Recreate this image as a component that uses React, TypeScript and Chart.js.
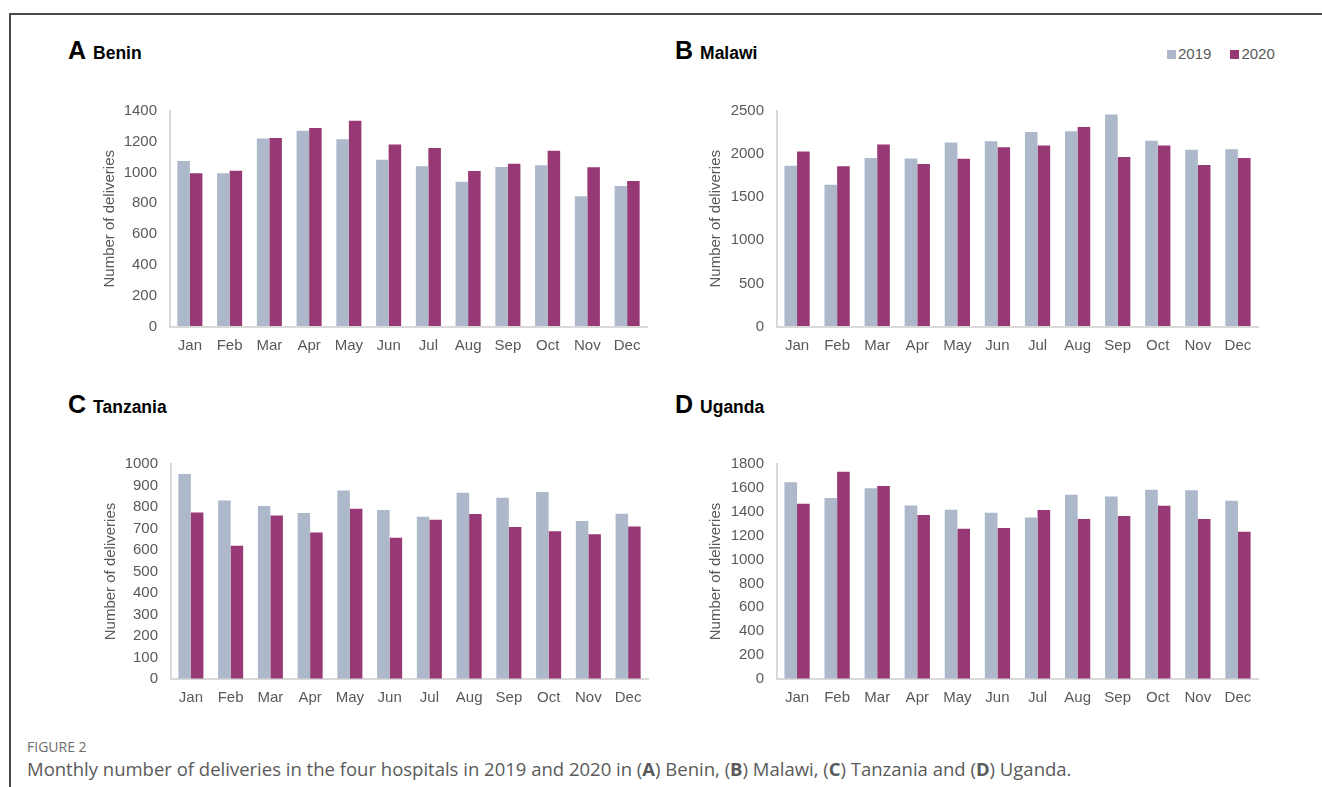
import React, { useEffect, useRef } from "react";
import { Chart, registerables } from "chart.js";

Chart.register(...registerables);

// Month labels shared by every panel
const months = ["Jan", "Feb", "Mar", "Apr", "May", "Jun", "Jul", "Aug", "Sep", "Oct", "Nov", "Dec"];

// Series names and colours
const seriesNames = ["2019", "2020"];
const seriesColors = ["#ADB9CA", "#973975"];

// Monthly deliveries per hospital
const benin2019 = [1075, 995, 1222, 1272, 1217, 1083, 1041, 940, 1037, 1048, 846, 912];
const benin2020 = [995, 1012, 1224, 1290, 1337, 1183, 1160, 1011, 1058, 1141, 1035, 946];

const malawi2019 = [1865, 1645, 1955, 1950, 2135, 2150, 2255, 2265, 2460, 2155, 2050, 2055];
const malawi2020 = [2030, 1860, 2110, 1885, 1945, 2080, 2100, 2315, 1965, 2100, 1875, 1955];

const tanzania2019 = [953, 830, 805, 772, 877, 786, 755, 866, 843, 870, 735, 769];
const tanzania2020 = [775, 620, 760, 681, 792, 657, 741, 767, 707, 687, 673, 709];

const uganda2019 = [1648, 1515, 1598, 1453, 1417, 1392, 1353, 1543, 1528, 1584, 1581, 1492];
const uganda2020 = [1467, 1736, 1615, 1372, 1258, 1264, 1414, 1339, 1364, 1450, 1339, 1233];

// Y-axis ranges
const beninAxis = { max: 1400, step: 200 };
const malawiAxis = { max: 2500, step: 500 };
const tanzaniaAxis = { max: 1000, step: 100 };
const ugandaAxis = { max: 1800, step: 200 };

const yTitle = "Number of deliveries";
const axisFont = "'Liberation Sans', Arial, sans-serif";
const textGrey = "#595959";

type PanelProps = {
  letter: string;
  name: string;
  v2019: number[];
  v2020: number[];
  axis: { max: number; step: number };
  left: number;
  top: number;
  width: number;
  height: number;
  plotLeft: number;
  plotRight: number;
  plotTop: number;
  plotBottom: number;
  titleOffset: number;
  headX: number;
  headY: number;
};

function Panel(p: PanelProps) {
  const ref = useRef<HTMLCanvasElement | null>(null);

  useEffect(() => {
    if (!ref.current) return;
    const chart = new Chart(ref.current, {
      type: "bar",
      data: {
        labels: months,
        datasets: [
          { label: seriesNames[0], data: p.v2019, backgroundColor: seriesColors[0], borderWidth: 0 },
          { label: seriesNames[1], data: p.v2020, backgroundColor: seriesColors[1], borderWidth: 0 },
        ],
      },
      options: {
        responsive: false,
        animation: false,
        devicePixelRatio: 1,
        datasets: { bar: { categoryPercentage: 0.63, barPercentage: 1.0 } },
        layout: {
          padding: { left: 0, top: p.plotTop, right: p.width - p.plotRight, bottom: 0 },
        },
        plugins: { legend: { display: false }, tooltip: { enabled: false } },
        scales: {
          x: {
            grid: { drawOnChartArea: false, drawTicks: false },
            border: { display: true, color: "#D9D9D9", width: 2 },
            ticks: { color: textGrey, padding: 10, font: { family: axisFont, size: 15 }, maxRotation: 0 },
            afterFit: (s: any) => {
              s.height = p.height - p.plotBottom;
              s.paddingLeft = 0;
              s.paddingRight = 0;
            },
          },
          y: {
            min: 0,
            max: p.axis.max,
            grid: { drawOnChartArea: false, drawTicks: false },
            border: { display: true, color: "#D9D9D9", width: 2 },
            ticks: {
              stepSize: p.axis.step,
              color: textGrey,
              padding: 13,
              font: { family: axisFont, size: 15 },
              callback: (v: any) => String(v),
            },
            title: {
              display: true,
              text: yTitle,
              color: textGrey,
              font: { family: axisFont, size: 15, weight: "normal" },
              padding: { top: p.titleOffset, bottom: 0 },
            },
            afterFit: (s: any) => {
              s.width = p.plotLeft;
              s.paddingTop = 0;
              s.paddingBottom = 0;
            },
          },
        },
      },
    });
    return () => chart.destroy();
  }, []);

  return (
    <>
      <div
        style={{
          position: "absolute",
          left: p.headX,
          top: p.headY,
          display: "flex",
          alignItems: "baseline",
          fontFamily: axisFont,
          fontWeight: "bold",
          color: "#000",
          lineHeight: 1,
        }}
      >
        <span style={{ fontSize: 25 }}>{p.letter}</span>
        <span style={{ fontSize: 17.5, marginLeft: 7 }}>{p.name}</span>
      </div>
      <div style={{ position: "absolute", left: p.left, top: p.top, width: p.width, height: p.height }}>
        <canvas ref={ref} width={p.width} height={p.height} />
      </div>
    </>
  );
}

export default function App() {
  const W = 580;
  const H = 270;
  return (
    <div style={{ position: "absolute", left: 0, top: 0, width: 1322, height: 787, background: "#fff", overflow: "hidden" }}>
      {/* figure frame */}
      <div
        style={{
          position: "absolute",
          left: 9,
          top: 13,
          width: 1322,
          height: 800,
          borderTop: "2px solid #4a4a4a",
          borderLeft: "2px solid #4a4a4a",
        }}
      />

      <Panel letter="A" name="Benin" v2019={benin2019} v2020={benin2020} axis={beninAxis}
        left={80} top={96} width={W} height={H} plotLeft={90} plotRight={567} plotTop={15} plotBottom={230.5}
        titleOffset={21} headX={68} headY={38} />
      <Panel letter="B" name="Malawi" v2019={malawi2019} v2020={malawi2020} axis={malawiAxis}
        left={690} top={96} width={W} height={H} plotLeft={87} plotRight={568} plotTop={15} plotBottom={230.5}
        titleOffset={17} headX={675} headY={38} />
      <Panel letter="C" name="Tanzania" v2019={tanzania2019} v2020={tanzania2020} axis={tanzaniaAxis}
        left={80} top={448} width={W} height={H} plotLeft={91} plotRight={568} plotTop={16} plotBottom={231}
        titleOffset={22} headX={68} headY={392} />
      <Panel letter="D" name="Uganda" v2019={uganda2019} v2020={uganda2020} axis={ugandaAxis}
        left={690} top={448} width={W} height={H} plotLeft={87} plotRight={568} plotTop={16} plotBottom={231}
        titleOffset={17} headX={675} headY={392} />

      {/* legend */}
      <div
        style={{
          position: "absolute",
          left: 1167,
          top: 45,
          display: "flex",
          alignItems: "center",
          fontFamily: axisFont,
          fontSize: 15,
          color: textGrey,
          lineHeight: "18px",
        }}
      >
        {seriesNames.map((n, i) => (
          <span key={n} style={{ display: "flex", alignItems: "center", marginRight: i === 0 ? 19 : 0 }}>
            <span style={{ display: "inline-block", width: 9, height: 9, background: seriesColors[i], marginRight: 2 }} />
            {n}
          </span>
        ))}
      </div>

      {/* caption */}
      <div
        style={{
          position: "absolute",
          left: 27,
          top: 738,
          fontFamily: "'Open Sans', sans-serif",
          fontSize: 14,
          fontWeight: 500,
          color: "#6d6d6d",
          lineHeight: "18px",
        }}
      >
        FIGURE 2
      </div>
      <div
        style={{
          position: "absolute",
          left: 27,
          top: 758,
          fontFamily: "'Open Sans', sans-serif",
          fontSize: 18.5,
          color: "#5a5a5a",
          lineHeight: "22px",
          whiteSpace: "nowrap",
        }}
      >
        Monthly number of deliveries in the four hospitals in 2019 and 2020 in (<b>A</b>) Benin, (<b>B</b>) Malawi,
        (<b>C</b>) Tanzania and (<b>D</b>) Uganda.
      </div>
    </div>
  );
}
